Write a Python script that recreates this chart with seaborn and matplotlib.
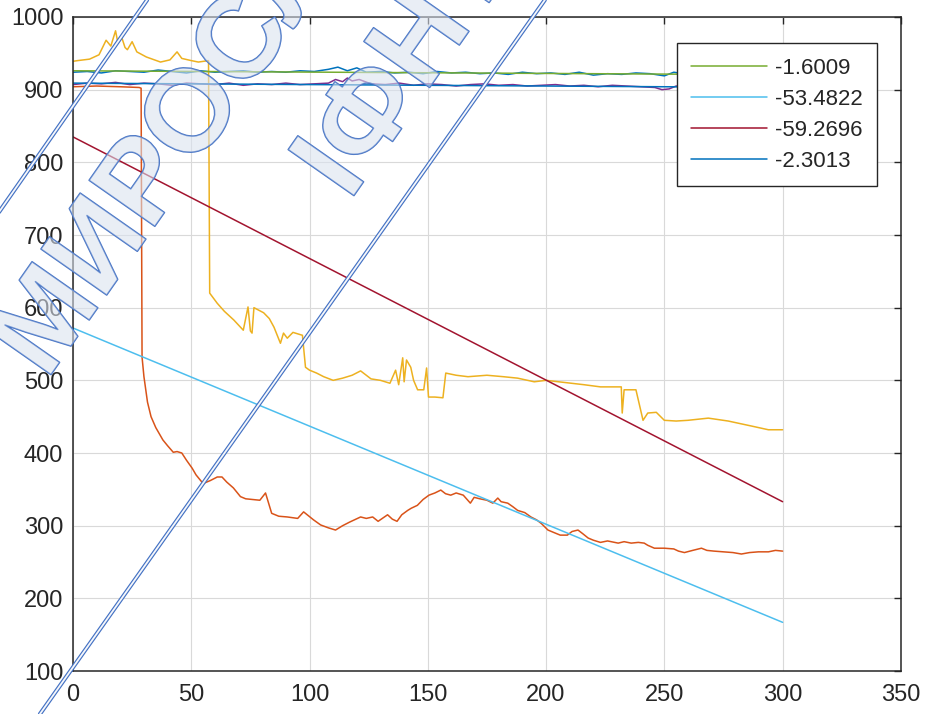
import matplotlib
matplotlib.use("Agg")
import matplotlib.pyplot as plt
import matplotlib.patheffects as patheffects
from matplotlib.lines import Line2D
import seaborn as sns

# measured series (time, value)
yellow_t = [0, 2, 7, 11, 14, 16, 18, 19, 20.6, 22, 23, 25, 27, 31, 37, 41, 44, 46, 50, 53, 57.3,
            57.8, 61, 64, 68, 72, 74, 75, 75.7, 76.5, 80.6, 83, 85, 87.7, 89, 90.6, 93, 97, 98.3,
            100, 103, 106, 110, 114, 118, 121.6, 126, 130, 134, 136.4, 137.7, 139.4, 140, 141,
            142.8, 144, 145.7, 148.3, 149.5, 150.3, 153, 156.4, 157.6, 162, 167, 175, 182, 188,
            195, 200, 208, 216, 223, 231.8, 232.2, 233, 238, 241, 243, 246.6, 250, 255, 260,
            268.6, 277, 287, 294, 300]
yellow_v = [939, 940, 942, 948, 968, 960, 981, 964, 972, 958, 955, 966, 952, 945, 938, 941, 952, 943,
            940, 938, 940, 620, 606, 595, 583, 569, 601, 568, 565, 600, 593, 585, 573, 551, 565, 558,
            566, 562, 518, 514, 510, 505, 500, 503, 507, 513, 502, 500, 496, 514, 494, 531, 498, 528,
            518, 500, 487, 487, 517, 477, 477, 476, 510, 507, 505, 507, 505, 503, 498, 500, 497, 494,
            491, 491, 455, 487, 487, 445, 455, 456, 445, 444, 445, 448, 444, 437, 432, 432]

orange_t = [0, 10, 20, 28, 28.8, 29.2, 30, 31.5, 33, 35, 38, 40, 42.4, 44, 46, 48, 50.4, 52, 55, 58,
            61, 63, 65, 67.8, 70.8, 73, 76, 79, 81.4, 84, 87, 90.6, 95, 97.5, 101.7, 104.7, 108, 111,
            114, 117, 121.6, 124, 126.7, 129, 133, 135, 137, 139, 141.5, 143, 145.6, 148, 150.5, 153,
            155.5, 157.5, 159.7, 162, 165, 168, 169.6, 172, 175, 177.5, 179.6, 181, 183.8, 186, 188,
            191, 193.6, 196, 198, 200.8, 203, 206, 209, 211, 213.5, 215.5, 217.8, 220, 223, 226,
            230.5, 233, 236, 239, 241.5, 243, 245.8, 250, 254, 256, 258.5, 262, 265.7, 268, 271, 275,
            279, 282.6, 286, 289.8, 294, 297, 300]
orange_v = [904, 905, 904, 903, 902, 532, 505, 470, 450, 435, 418, 410, 401, 402, 400, 390, 379, 370,
            358, 362, 367, 367, 360, 352, 340, 337, 336, 335, 345, 317, 313, 312, 310, 319, 308, 301,
            297, 294, 300, 305, 312, 310, 312, 306, 315, 309, 306, 315, 321, 324, 328, 336, 342, 345,
            349, 344, 342, 345, 342, 331, 339, 337, 335, 331, 338, 333, 331, 326, 321, 318, 312, 308,
            303, 294, 291, 287, 287, 292, 294, 289, 283, 280, 277, 279, 276, 278, 276, 277, 276, 273,
            269, 269, 268, 265, 263, 266, 269, 266, 265, 264, 263, 261, 263, 264, 264, 266, 265]

blue_t = [0, 6, 12, 18, 24, 30, 36, 42, 48, 54, 60, 66, 72, 78, 84, 90, 96, 102, 108, 112, 116, 120,
          124, 130, 136, 142, 148, 154, 160, 166, 172, 178, 184, 190, 196, 202, 208, 214, 220, 226,
          232, 238, 244, 250, 254, 260, 266, 272, 278, 284, 290, 296, 300]
blue_v = [924, 925, 923, 926, 925, 924, 927, 925, 923, 926, 924, 925, 926, 924, 925, 924, 926, 925, 928,
          931, 926, 930, 924, 925, 923, 924, 922, 925, 923, 924, 922, 923, 921, 924, 922, 923, 921, 924,
          920, 922, 921, 923, 922, 919, 924, 921, 920, 922, 919, 921, 920, 919, 921]

purple_t = [0, 6, 12, 18, 24, 30, 36, 42, 48, 54, 60, 66, 72, 78, 84, 90, 96, 102, 108, 111, 114, 116,
            118, 121, 126, 132, 138, 144, 150, 156, 162, 168, 174, 180, 186, 192, 198, 204, 210, 216,
            222, 228, 234, 240, 246, 249, 252, 255, 260, 266, 272, 278, 284, 290, 296, 300]
purple_v = [907, 909, 908, 910, 907, 909, 908, 906, 909, 908, 907, 909, 906, 908, 907, 909, 907, 908, 909,
            914, 911, 916, 912, 914, 908, 907, 909, 906, 908, 907, 905, 907, 908, 906, 907, 905, 906, 907,
            905, 906, 904, 906, 905, 904, 903, 900, 901, 905, 904, 903, 905, 904, 903, 904, 903, 904]

# fitted lines (two end points each)
fit_t = [0, 300]
fit_green = [926, 920.5]
fit_lightblue = [572, 167]
fit_darkred = [835, 333]
fit_blue = [909, 903]
fit_labels = ["-1.6009", "-53.4822", "-59.2696", "-2.3013"]

xticks = [0, 50, 100, 150, 200, 250, 300, 350]
yticks = [100, 200, 300, 400, 500, 600, 700, 800, 900, 1000]

watermark_lines = ["МИРОСЛАВ", "ІФНТУНГ"]

sns.set_style("white")
plt.rcParams['font.family'] = ['Liberation Sans', 'DejaVu Sans']

fig = plt.figure(figsize=(9.25, 7.14), dpi=100)
ax = fig.add_axes([0.0789, 0.0602, 0.895, 0.916])

lw = 1.1
sns.lineplot(x=blue_t, y=blue_v, color='#0072BD', lw=lw, ax=ax, sort=False)
sns.lineplot(x=orange_t, y=orange_v, color='#D95319', lw=lw, ax=ax, sort=False)
sns.lineplot(x=yellow_t, y=yellow_v, color='#EDB120', lw=lw, ax=ax, sort=False)
sns.lineplot(x=purple_t, y=purple_v, color='#7E2F8E', lw=lw, ax=ax, sort=False)
sns.lineplot(x=fit_t, y=fit_green, color='#77AC30', lw=lw, ax=ax, label=fit_labels[0])
sns.lineplot(x=fit_t, y=fit_lightblue, color='#4DBEEE', lw=lw, ax=ax, label=fit_labels[1])
sns.lineplot(x=fit_t, y=fit_darkred, color='#A2142F', lw=lw, ax=ax, label=fit_labels[2])
sns.lineplot(x=fit_t, y=fit_blue, color='#0072BD', lw=lw, ax=ax, label=fit_labels[3])

ax.set_xlim(0, 350)
ax.set_ylim(100, 1000)
ax.set_xticks(xticks)
ax.set_yticks(yticks)
ax.set_xlabel("")
ax.set_ylabel("")
ax.grid(True, color='#d9d9d9', lw=0.8)
ax.set_axisbelow(True)
for s in ax.spines.values():
    s.set_color('#262626')
    s.set_linewidth(1.1)
ax.tick_params(direction='in', length=5, width=1, colors='#262626', labelsize=17,
               top=True, right=True)
ax.tick_params(axis='x', pad=9)
ax.tick_params(axis='y', pad=7)

leg = ax.legend(loc='upper right', bbox_to_anchor=(0.971, 0.960), fontsize=16,
                frameon=True, fancybox=False, framealpha=1, edgecolor='#262626',
                handlelength=3.4, handletextpad=0.35, labelspacing=0.45, borderpad=0.65,
                borderaxespad=0)
leg.get_frame().set_linewidth(1.0)
for t in leg.get_texts():
    t.set_color('#262626')

# watermark overlay
wm_edge = '#4472C4'
pe = [patheffects.Stroke(linewidth=1.1, foreground=wm_edge), patheffects.Normal()]
fill = (0.86, 0.89, 0.94, 0.35)
fig.text(0.0503, 0.4664, watermark_lines[0], rotation=55, rotation_mode='anchor', ha='left',
         va='baseline', fontsize=84, weight='bold', color=fill, path_effects=pe, zorder=10)
fig.text(0.3778, 0.7171, watermark_lines[1], rotation=55, rotation_mode='anchor', ha='left',
         va='baseline', fontsize=84, weight='bold', color=fill, path_effects=pe, zorder=10)
line_pe = [patheffects.Stroke(linewidth=3.0, foreground=wm_edge), patheffects.Normal()]
for xs in ([0.0432, 0.589], [-0.38, 0.159]):
    fig.add_artist(Line2D(xs, [0, 1], transform=fig.transFigure, color='#f5f7fb', lw=1.3,
                          path_effects=line_pe, zorder=10))

fig.savefig("out.png", dpi=100)
